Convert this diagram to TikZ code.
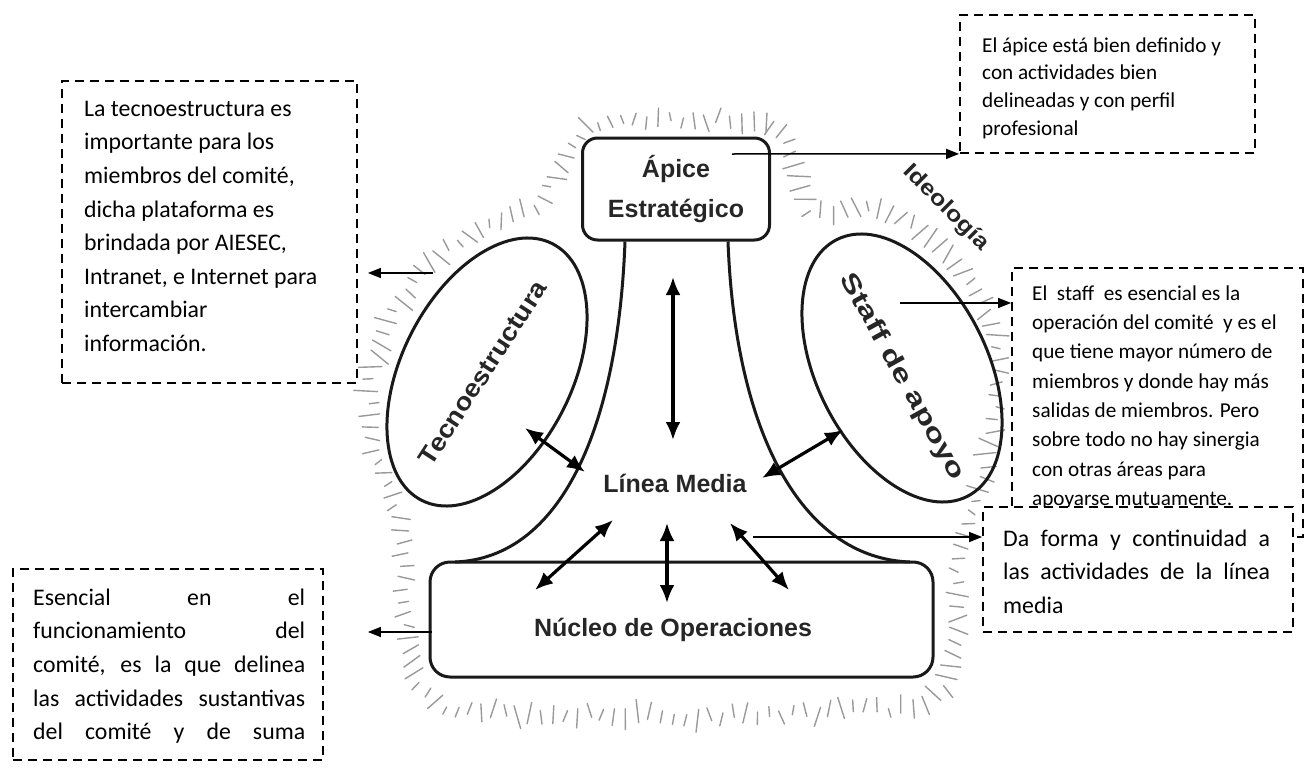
\documentclass[tikz,border=0pt]{standalone}
\usepackage{fontspec}
\setmainfont{Carlito}
\newfontfamily\diagfont{Liberation Sans}
\usetikzlibrary{arrows.meta,shapes.geometric,decorations.markings,calc}
\tikzset{
  outline/.style={draw=black!90, line width=3pt},
  notebox/.style={rectangle, draw=black, line width=1.8pt, dash pattern=on 9pt off 6pt, fill=white, inner sep=0pt},
  notetext/.style={anchor=north west, inner sep=0pt, align=left},
  smallnote/.style={font=\fontsize{21.2}{27.7}\selectfont},
  staffnotefont/.style={font=\fontsize{21.2}{29.3}\selectfont},
  bignote/.style={font=\fontsize{23.8}{33.6}\selectfont},
  pointer/.style={line width=1.5pt, -{Triangle[length=13pt,width=10pt]}},
  twoway/.style={line width=3.2pt, {Latex[length=18pt,width=15pt]}-{Latex[length=18pt,width=15pt]}},
  halo/.style={line width=1.4pt, black!40, line cap=round},
  diagtext/.style={font=\diagfont\bfseries\fontsize{25}{40}\selectfont, text=black!85},
}
\begin{document}
\begin{tikzpicture}[x=1pt,y=-1pt]
\useasboundingbox (0,0) rectangle (1306,768);
\fill[white] (0,0) rectangle (1306,768);

% halo of short strokes (ideology)
\pgfmathsetseed{11}
\path[decorate, decoration={markings, mark=between positions 0 and 0.999 step 12pt with {
  \pgfmathsetmacro{\hang}{90+22*rand}
  \pgfmathsetmacro{\hlen}{8+4*rand}
  \pgfmathsetmacro{\hoff}{5*rand}
  \draw[halo, shift={(0,\hoff)}] (\hang:\hlen) -- (\hang+180:\hlen);
}}] plot[smooth cycle, tension=0.55] coordinates {(676,120) (770,126) (795,165) (812,212) (870,205) (925,232) (968,275) (996,340) (995,425) (975,505) (958,570) (955,645) (930,700) (800,713) (680,716) (540,713) (440,705) (408,650) (404,570) (395,505) (372,440) (374,360) (415,282) (470,232) (535,205) (562,165) (590,126)};

% main shapes
\node[outline, ellipse, minimum width=288pt, minimum height=170pt, rotate=63, inner sep=0pt] (tecno) at (487,372) {};
\node[outline, ellipse, minimum width=288pt, minimum height=170pt, rotate=-63, inner sep=0pt] (staff) at (902,368) {};
\node[outline, rounded corners=15pt, minimum width=187pt, minimum height=102pt, diagtext, align=center] (apice) at (676,189) {Ápice\\Estratégico};
\node[outline, rounded corners=20pt, minimum width=503pt, minimum height=115pt] (nucleo) at (681.5,619.5) {};
\node[diagtext] (nucleotxt) at (673,630) {Núcleo de Operaciones};
\node[diagtext] (linea) at (675,483) {Línea Media};
\node[diagtext, rotate=57] (tecnotxt) at (483,373) {\scalebox{1.1}[1]{Tecnoestructura}};
\node[diagtext, rotate=-61] (stafftxt) at (902,377) {\scalebox{1.35}[1]{Staff de apoyo}};
\node[diagtext, rotate=-45, font=\diagfont\bfseries\fontsize{22}{26}\selectfont] (ideo) at (946,208) {\scalebox{1.15}[1]{Ideología}};

% stems
\coordinate (stemL) at (455,562);
\coordinate (stemR) at (910,562);
\draw[outline] ([xshift=-51pt]apice.south) .. controls (618,430) and (560,558) .. (stemL);
\draw[outline] ([xshift=52pt]apice.south) .. controls (735,430) and (800,558) .. (stemR);

% two-way arrows
\coordinate (d1a) at (673,277); \coordinate (d1b) at (673,440);
\coordinate (d2a) at (525,428); \coordinate (d2b) at (585,472);
\coordinate (d3a) at (843,430); \coordinate (d3b) at (762,478);
\coordinate (d4a) at (613,520); \coordinate (d4b) at (535,590);
\coordinate (d5a) at (667,523); \coordinate (d5b) at (667,603);
\coordinate (d6a) at (730,523); \coordinate (d6b) at (789,590);
\draw[twoway] (d1a) -- (d1b);
\draw[twoway] (d2a) -- (d2b);
\draw[twoway] (d3a) -- (d3b);
\draw[twoway] (d4a) -- (d4b);
\draw[twoway] (d5a) -- (d5b);
\draw[twoway] (d6a) -- (d6b);

% callout boxes
\node[notebox, minimum width=295pt, minimum height=138pt] (apexnote) at (1107.5,84) {};
\node[notetext, smallnote] (apextxt) at (982,32) {\rule{0pt}{20pt}El ápice está bien definido y\\con actividades bien\\delineadas y con perfil\\profesional};

\node[notebox, minimum width=295pt, minimum height=302pt] (tecnonote) at (209.5,232) {};
\node[notetext, bignote] (tecnonotetxt) at (84,94) {\rule{0pt}{22pt}La tecnoestructura es\\importante para los\\miembros del comité,\\dicha plataforma es\\brindada por AIESEC,\\Intranet, e Internet para\\intercambiar\\información.};

\node[notebox, minimum width=291pt, minimum height=269pt] (staffnote) at (1157.5,402.5) {};
\node[notetext, staffnotefont] (staffnotetxt) at (1032,280) {\rule{0pt}{20pt}El\ \ staff\ \ es esencial es la\\operación del comité\ \ y es el\\que tiene mayor número de\\miembros y donde hay más\\salidas de miembros. Pero\\sobre todo no hay sinergia\\con otras áreas para\\apoyarse mutuamente.};

\node[notebox, minimum width=310pt, minimum height=125pt] (lineanote) at (1138,569.5) {};
\node[notetext, bignote] (lineanotetxt) at (1003,524) {\rule{0pt}{22pt}\makebox[267pt][s]{Da forma y continuidad a}\\\makebox[267pt][s]{las actividades de la línea}\\media};

\node[notebox, minimum width=310pt, minimum height=191pt] (nucleonote) at (168,664.5) {};
\node[notetext, bignote] (nucleonotetxt) at (33,583) {\rule{0pt}{22pt}\makebox[272pt][s]{Esencial en el}\\\makebox[272pt][s]{funcionamiento del}\\\makebox[272pt][s]{comité, es la que delinea}\\\makebox[272pt][s]{las actividades sustantivas}\\\makebox[272pt][s]{del comité y de suma}};

% pointers to the notes
\coordinate (pA) at (732,154);
\coordinate (pT) at (433,273);
\coordinate (pS) at (900,303);
\coordinate (pL) at (753,537);
\coordinate (pN) at (432,632);
\draw[pointer] (pA) -- (apexnote.south west);
\draw[pointer, shorten >=10pt] (pT) -- (pT -| tecnonote.east);
\draw[pointer] (pS) -- (pS -| staffnote.west);
\draw[pointer] (pL) -- (pL -| lineanote.west);
\draw[pointer, shorten >=44pt] (pN) -- (pN -| nucleonote.east);
\end{tikzpicture}
\end{document}
